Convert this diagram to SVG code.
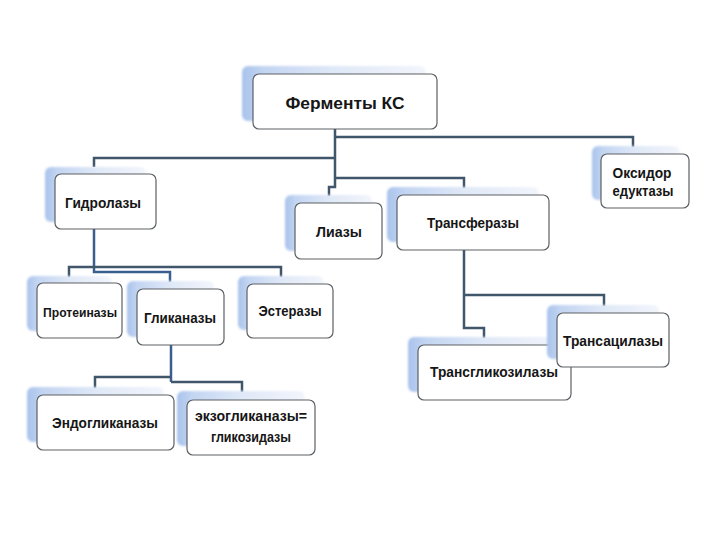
<svg xmlns="http://www.w3.org/2000/svg" width="720" height="540" viewBox="0 0 720 540">
<defs>
<linearGradient id="sh" x1="0" y1="0" x2="1" y2="0">
<stop offset="0" stop-color="#a9c3ec"/>
<stop offset="0.12" stop-color="#c3d5f2"/>
<stop offset="0.5" stop-color="#dfe8f7"/>
<stop offset="1" stop-color="#f2f5fb"/>
</linearGradient>
<filter id="bl" x="-10%" y="-10%" width="120%" height="120%">
<feGaussianBlur stdDeviation="1"/>
</filter>
<style>
.sh{fill:url(#sh);filter:url(#bl);}
.bx{fill:#ffffff;stroke:#5c6064;stroke-width:1.2;}
.ln{fill:none;stroke:#3f566b;stroke-width:2.5;}
.lb{fill:none;stroke:#3a5f8f;stroke-width:2.5;}
text{font-family:"Liberation Sans",Arial,sans-serif;font-weight:bold;fill:#161616;text-anchor:middle;font-size:14px;}
.t0{font-size:16px;}
.sm{font-size:13px;}
</style>
</defs>
<rect width="720" height="540" fill="#ffffff"/>
<g id="connectors">
<path class="ln" d="M335,129 V187 H329 V196"/>
<path class="ln" d="M335,137 H633 V147"/>
<path class="ln" d="M335,158 H94 V167"/>
<path class="ln" d="M335,178 H464 V188"/>
<path class="lb" d="M94,229 V272 H170 V282"/>
<path class="ln" d="M69,277 V267 H281 V277"/>
<path class="lb" d="M171,345 V382"/>
<path class="ln" d="M95,388 V377 H171"/>
<path class="ln" d="M171,382 H242 V392"/>
<path class="ln" d="M464,250 V328 H484 V338"/>
<path class="ln" d="M464,295 H604 V306"/>
</g>
<g id="n-fermenty">
<rect class="sh" x="242" y="66" width="184" height="55" rx="6"/>
<rect class="bx" x="253" y="74" width="184" height="55" rx="6"/>
<text class="t0" x="345" y="109" textLength="119" lengthAdjust="spacingAndGlyphs">Ферменты КС</text>
</g>
<g id="n-gidrolazy">
<rect class="sh" x="45" y="167" width="101" height="55" rx="6"/>
<rect class="bx" x="55" y="174" width="101" height="55" rx="6"/>
<text x="103" y="208" textLength="76" lengthAdjust="spacingAndGlyphs">Гидролазы</text>
</g>
<g id="n-liazy">
<rect class="sh" x="285" y="195" width="87" height="56" rx="6"/>
<rect class="bx" x="295" y="203" width="87" height="56" rx="6"/>
<text x="339" y="237" textLength="46" lengthAdjust="spacingAndGlyphs">Лиазы</text>
</g>
<g id="n-transferazy">
<rect class="sh" x="387" y="187" width="152" height="55" rx="6"/>
<rect class="bx" x="397" y="195" width="152" height="55" rx="6"/>
<text x="473" y="228" textLength="92" lengthAdjust="spacingAndGlyphs">Трансферазы</text>
</g>
<g id="n-oksidoreduktazy">
<rect class="sh" x="592" y="146" width="88" height="54" rx="6"/>
<rect class="bx" x="601" y="154" width="88" height="54" rx="6"/>
<text x="642" y="178" textLength="59" lengthAdjust="spacingAndGlyphs">Оксидор</text>
<text x="643" y="196" textLength="61" lengthAdjust="spacingAndGlyphs">едуктазы</text>
</g>
<g id="n-proteinazy">
<rect class="sh" x="27" y="276" width="85" height="55" rx="6"/>
<rect class="bx" x="37" y="283" width="85" height="55" rx="6"/>
<text class="sm" x="80" y="317" textLength="74" lengthAdjust="spacingAndGlyphs">Протеиназы</text>
</g>
<g id="n-glikanazy">
<rect class="sh" x="127" y="281" width="87" height="56" rx="6"/>
<rect class="bx" x="137" y="289" width="87" height="56" rx="6"/>
<text x="180" y="323" textLength="72" lengthAdjust="spacingAndGlyphs">Гликаназы</text>
</g>
<g id="n-esterazy">
<rect class="sh" x="238" y="276" width="86" height="54" rx="6"/>
<rect class="bx" x="247" y="284" width="86" height="54" rx="6"/>
<text x="290" y="316" textLength="63" lengthAdjust="spacingAndGlyphs">Эстеразы</text>
</g>
<g id="n-transglikozilazy">
<rect class="sh" x="408" y="337" width="153" height="55" rx="6"/>
<rect class="bx" x="418" y="345" width="153" height="55" rx="6"/>
<text x="494" y="377" textLength="128" lengthAdjust="spacingAndGlyphs">Трансгликозилазы</text>
</g>
<g id="n-transacilazy">
<rect class="sh" x="547" y="305" width="112" height="54" rx="6"/>
<rect class="bx" x="557" y="313" width="112" height="54" rx="6"/>
<text x="613" y="346" textLength="100" lengthAdjust="spacingAndGlyphs">Трансацилазы</text>
</g>
<g id="n-endoglikanazy">
<rect class="sh" x="27" y="387" width="137" height="55" rx="6"/>
<rect class="bx" x="37" y="395" width="137" height="55" rx="6"/>
<text x="105" y="428" textLength="106" lengthAdjust="spacingAndGlyphs">Эндогликаназы</text>
</g>
<g id="n-ekzoglikanazy">
<rect class="sh" x="177" y="391" width="128" height="55" rx="6"/>
<rect class="bx" x="187" y="400" width="128" height="55" rx="6"/>
<text x="251" y="421" textLength="112" lengthAdjust="spacingAndGlyphs">экзогликаназы=</text>
<text x="251" y="442" textLength="80" lengthAdjust="spacingAndGlyphs">гликозидазы</text>
</g>
</svg>
